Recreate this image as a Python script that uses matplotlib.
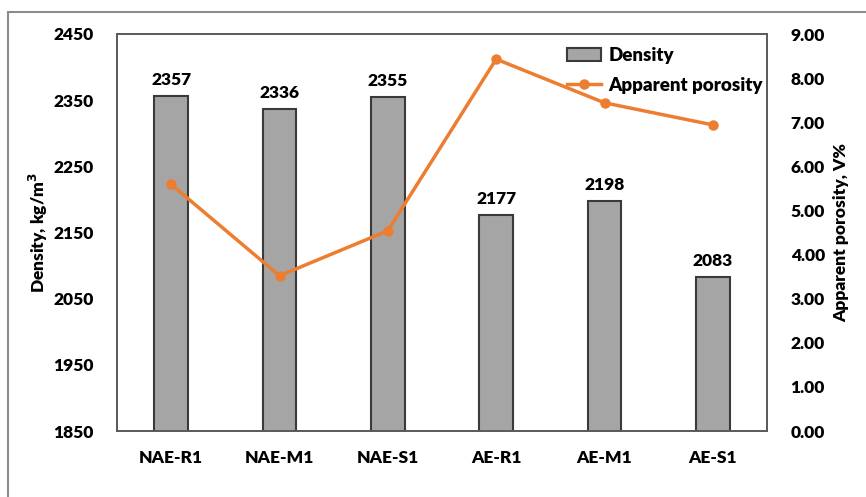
import matplotlib.pyplot as plt
from matplotlib.patches import Rectangle

plt.rcParams['font.family'] = ['Lato', 'DejaVu Sans']
plt.rcParams['font.weight'] = 'heavy'
plt.rcParams['axes.labelweight'] = 'heavy'

mixes = ["NAE-R1", "NAE-M1", "NAE-S1", "AE-R1", "AE-M1", "AE-S1"]
density = [2357, 2336, 2355, 2177, 2198, 2083]
porosity = [5.59, 3.52, 4.54, 8.43, 7.44, 6.94]
left_ticks = [1850, 1950, 2050, 2150, 2250, 2350, 2450]
right_ticks = [0, 1, 2, 3, 4, 5, 6, 7, 8, 9]

fig = plt.figure(figsize=(8.66, 4.97), dpi=100)
ax = fig.add_axes([117 / 866, 1 - 431 / 497, 650 / 866, 397 / 497])

# outer frame around the whole chart
fig.patches.append(Rectangle((8 / 866, -0.1), 1.2, (497 - 12) / 497 + 0.1,
                             transform=fig.transFigure, fill=False,
                             edgecolor='#8c8c8c', linewidth=1.5))

x = range(len(mixes))
bars = ax.bar(x, density, width=0.31, color='#a5a5a5', edgecolor='#3a3a3a',
              linewidth=1.5, label='Density', zorder=2)
for xi, d in zip(x, density):
    ax.text(xi, d + 12, str(d), ha='center', va='bottom', fontsize=12.5)

ax.set_ylim(1850, 2450)
ax.set_xlim(-0.5, len(mixes) - 0.5)
ax.set_yticks(left_ticks)
ax.set_xticks(list(x))
ax.set_xticklabels(mixes)
ax.tick_params(axis='y', length=0, pad=17, labelsize=12.5)
ax.tick_params(axis='x', length=0, pad=14, labelsize=12.5)
ax.set_ylabel('Density, kg/m$^\\mathbf{3}$', fontsize=12.5, labelpad=2)

ax2 = ax.twinx()
line, = ax2.plot(x, porosity, color='#ed7d31', linewidth=2.5, marker='o',
                 markersize=6.5, label='Apparent porosity', zorder=3)
ax2.set_ylim(0, 9)
ax2.set_yticks(right_ticks)
ax2.set_yticklabels([f"{t:.2f}" for t in right_ticks])
ax2.tick_params(axis='y', length=0, pad=17, labelsize=12.5)
ax2.set_ylabel('Apparent porosity, V%', fontsize=12.5, labelpad=6)

for a in (ax, ax2):
    for s in a.spines.values():
        s.set_color('#595959')
        s.set_linewidth(1.2)

ax2.legend([bars, line], ['Density', 'Apparent porosity'], loc='upper right',
           frameon=False, fontsize=13.5, borderaxespad=0.0, handlelength=1.8,
           handletextpad=0.4, labelspacing=0.65,
           bbox_to_anchor=(1.005, 0.985))

fig.savefig('out.png', dpi=100)
